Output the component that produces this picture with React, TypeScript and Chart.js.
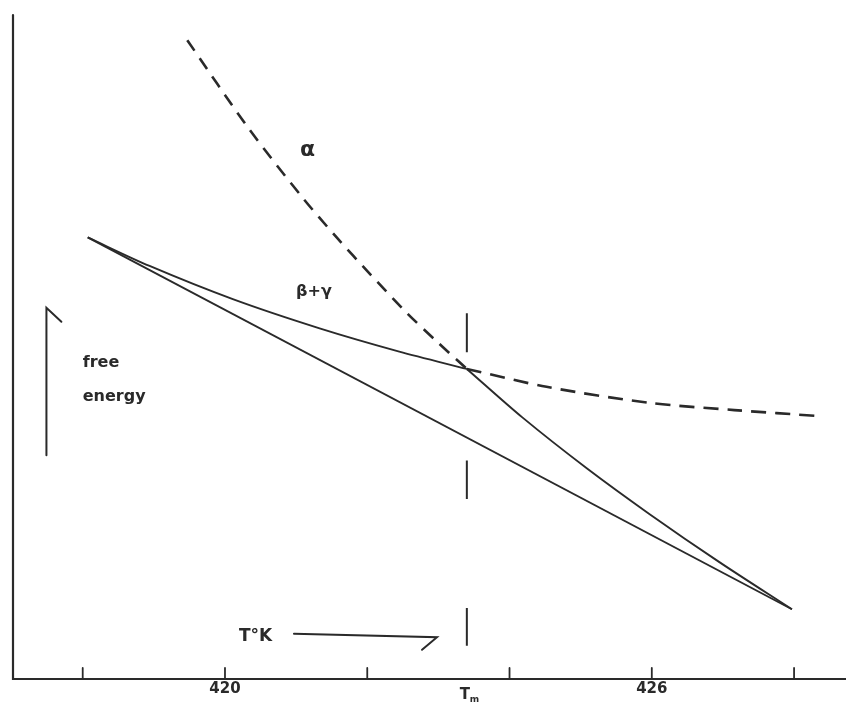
import { useEffect, useRef } from 'react';
import { Chart, registerables } from 'chart.js';

Chart.register(...registerables);

// ---- data (temperature in K, free energy in arbitrary units) ----
const T_M = 423.4;
const X_MIN = 417.02;
const X_MAX = 428.73;
const Y_MIN = 0;
const Y_MAX = 100;

const alphaMetaX = [419.47, 420.32, 421.09, 421.57, 422.03, 422.55, 422.97, 423.4];
const alphaMetaY = [96.2, 83.1, 72.5, 66.5, 61.1, 55.2, 50.9, 46.7];
const alphaStableX = [423.4, 424.18, 425.09, 425.96, 426.95, 427.97];
const alphaStableY = [46.7, 39.4, 31.7, 24.9, 17.6, 10.5];
const betaGammaStableX = [418.07, 418.94, 420.11, 421.33, 422.45, 423.4];
const betaGammaStableY = [66.5, 62.2, 57.2, 52.8, 49.3, 46.7];
const betaGammaMetaX = [423.4, 424.52, 425.96, 427.16, 428.35];
const betaGammaMetaY = [46.7, 44.0, 41.6, 40.5, 39.6];
const tangentX = [418.07, 427.97];
const tangentY = [66.5, 10.5];
const markerSegStart = [55.1, 32.9, 10.7];
const markerSegEnd = [49.2, 27.1, 5.0];

const tickValues = [418, 420, 422, 424, 426, 428];
const tickLabelValues = [420, 426];
const tickLabelTexts = ['420', '426'];

const INK = '#2a2a2a';
const FONT = '"DejaVu Sans", sans-serif';

const zip = (xs: number[], ys: number[]) => xs.map((x, i) => ({ x, y: ys[i] }));

export default function App() {
  const ref = useRef<HTMLCanvasElement | null>(null);

  useEffect(() => {
    if (!ref.current) return;

    const lineBase = {
      showLine: true,
      pointRadius: 0,
      borderColor: INK,
      backgroundColor: INK,
      fill: false,
      tension: 0.3,
    };

    const datasets: any[] = [
      { ...lineBase, label: 'α (metastable)', data: zip(alphaMetaX, alphaMetaY), borderWidth: 2.6, borderDash: [13, 9] },
      { ...lineBase, label: 'α', data: zip(alphaStableX, alphaStableY), borderWidth: 1.9 },
      { ...lineBase, label: 'β+γ', data: zip(betaGammaStableX, betaGammaStableY), borderWidth: 1.9 },
      { ...lineBase, label: 'β+γ (metastable)', data: zip(betaGammaMetaX, betaGammaMetaY), borderWidth: 2.6, borderDash: [15, 9] },
      { ...lineBase, label: 'tangent', data: zip(tangentX, tangentY), borderWidth: 1.9, tension: 0 },
      ...markerSegStart.map((y0, i) => ({
        ...lineBase,
        label: 'Tm marker ' + i,
        data: [{ x: T_M, y: y0 }, { x: T_M, y: markerSegEnd[i] }],
        borderWidth: 2,
        tension: 0,
      })),
    ];

    const bg = {
      id: 'bg',
      beforeDraw(c: any) {
        const ctx = c.ctx;
        ctx.save();
        ctx.fillStyle = '#ffffff';
        ctx.fillRect(0, 0, c.width, c.height);
        ctx.restore();
      },
    };

    const axes = {
      id: 'axesDraw',
      afterDatasetsDraw(c: any) {
        const { ctx, chartArea, scales } = c;
        const xs = scales.x;
        const ys = scales.y;
        const { left, right, top, bottom } = chartArea;
        ctx.save();
        ctx.strokeStyle = INK;
        ctx.fillStyle = INK;
        ctx.lineCap = 'round';
        // axis lines
        ctx.lineWidth = 2.2;
        ctx.beginPath();
        ctx.moveTo(left, top);
        ctx.lineTo(left, bottom);
        ctx.lineTo(right, bottom);
        ctx.stroke();
        // ticks
        ctx.lineWidth = 1.8;
        tickValues.forEach((v) => {
          const px = xs.getPixelForValue(v);
          ctx.beginPath();
          ctx.moveTo(px, bottom);
          ctx.lineTo(px, bottom - 11);
          ctx.stroke();
        });
        // tick labels
        ctx.font = 'bold 15px ' + FONT;
        ctx.textAlign = 'center';
        ctx.textBaseline = 'middle';
        tickLabelValues.forEach((v, i) => {
          ctx.fillText(tickLabelTexts[i], xs.getPixelForValue(v), bottom + 10);
        });
        // Tm label
        const tmx = xs.getPixelForValue(T_M);
        ctx.font = 'bold 15px ' + FONT;
        ctx.textAlign = 'center';
        ctx.textBaseline = 'alphabetic';
        ctx.fillText('T', tmx - 2, bottom + 20);
        ctx.font = 'bold 9px ' + FONT;
        ctx.textAlign = 'left';
        ctx.fillText('m', tmx + 3, bottom + 23);

        // free energy arrow
        const fx = xs.getPixelForValue(417.49);
        ctx.lineWidth = 2;
        ctx.beginPath();
        ctx.moveTo(fx, ys.getPixelForValue(33.7));
        ctx.lineTo(fx, ys.getPixelForValue(55.9));
        ctx.lineTo(xs.getPixelForValue(417.7), ys.getPixelForValue(53.8));
        ctx.stroke();
        ctx.font = 'bold 16px ' + FONT;
        ctx.textAlign = 'left';
        ctx.textBaseline = 'alphabetic';
        ctx.fillText('free', xs.getPixelForValue(418.0), ys.getPixelForValue(47.0));
        ctx.fillText('energy', xs.getPixelForValue(418.0), ys.getPixelForValue(41.8));

        // T°K arrow
        ctx.font = 'bold 17px ' + FONT;
        ctx.textAlign = 'center';
        ctx.textBaseline = 'middle';
        ctx.fillText('T°K', xs.getPixelForValue(420.43), ys.getPixelForValue(6.4));
        ctx.lineWidth = 2;
        ctx.beginPath();
        ctx.moveTo(xs.getPixelForValue(420.97), ys.getPixelForValue(6.8));
        ctx.lineTo(xs.getPixelForValue(422.98), ys.getPixelForValue(6.3));
        ctx.lineTo(xs.getPixelForValue(422.77), ys.getPixelForValue(4.4));
        ctx.stroke();

        // curve labels
        ctx.font = 'bold 22px ' + FONT;
        ctx.textAlign = 'center';
        ctx.textBaseline = 'middle';
        ctx.fillText('α', xs.getPixelForValue(421.16), ys.getPixelForValue(79.6));
        ctx.font = 'bold 16px ' + FONT;
        ctx.textAlign = 'left';
        ctx.fillText('β+γ', xs.getPixelForValue(421.0), ys.getPixelForValue(58.3));
        ctx.restore();
      },
    };

    const chart = new Chart(ref.current, {
      type: 'scatter',
      data: { datasets },
      options: {
        animation: false,
        responsive: false,
        layout: { padding: { left: 13, right: 0, top: 15, bottom: 23 } },
        scales: {
          x: { type: 'linear', display: false, min: X_MIN, max: X_MAX },
          y: { type: 'linear', display: false, min: Y_MIN, max: Y_MAX },
        },
        plugins: { legend: { display: false }, tooltip: { enabled: false } },
      },
      plugins: [bg, axes],
    } as any);

    return () => chart.destroy();
  }, []);

  return (
    <canvas
      ref={ref}
      width={846}
      height={702}
      style={{ position: 'fixed', left: 0, top: 0, width: 846, height: 702 }}
    />
  );
}
